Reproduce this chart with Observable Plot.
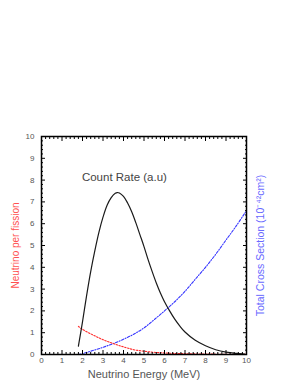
<!DOCTYPE html>
<html>
<head>
<meta charset="utf-8">
<script src="https://cdn.jsdelivr.net/npm/d3@7"></script>
<script src="https://cdn.jsdelivr.net/npm/@observablehq/plot@0.6"></script>
<style>
  html, body { margin: 0; padding: 0; background: #fff; }
  #chart { width: 295px; height: 382px; }
</style>
</head>
<body>
<div id="chart"></div>
<script>
// Count rate (a.u.)
const countEnergy = [1.8, 2.0, 2.2, 2.4, 2.6, 2.8, 3.0, 3.2, 3.4, 3.6, 3.7, 3.8, 4.0, 4.2, 4.4, 4.6, 4.8, 5.0, 5.2, 5.4, 5.6, 5.8, 6.0, 6.25, 6.5, 6.75, 7.0, 7.5, 8.0, 8.5, 9.0, 9.5, 9.9];
const countRate   = [0.38, 1.5, 2.7, 3.8, 4.75, 5.6, 6.3, 6.85, 7.2, 7.4, 7.43, 7.41, 7.25, 6.95, 6.55, 6.05, 5.5, 4.95, 4.35, 3.8, 3.28, 2.82, 2.42, 2.0, 1.62, 1.3, 1.03, 0.65, 0.4, 0.22, 0.11, 0.05, 0.02];

// Neutrino per fission
const fissionEnergy = [1.8, 2.0, 2.5, 3.0, 3.5, 4.0, 4.5, 5.0, 5.5, 6.0, 6.5, 7.0, 8.0, 9.0, 10.0];
const fissionYield  = [1.29, 1.15, 0.9, 0.68, 0.5, 0.35, 0.22, 0.15, 0.1, 0.07, 0.05, 0.035, 0.02, 0.01, 0.005];

// Total cross section (1e-42 cm^2)
const xsecEnergy = [1.8, 2.0, 2.5, 3.0, 3.5, 4.0, 4.5, 5.0, 5.5, 6.0, 6.5, 7.0, 7.5, 8.0, 8.5, 9.0, 9.5, 10.0];
const xsecValue  = [0.0, 0.04, 0.18, 0.33, 0.5, 0.7, 0.93, 1.22, 1.6, 2.0, 2.42, 2.9, 3.45, 4.0, 4.6, 5.25, 5.9, 6.6];

const majorTicks = [0, 1, 2, 3, 4, 5, 6, 7, 8, 9, 10];
const minorTicks = d3.range(0, 50).map(i => i / 5).filter(v => Math.abs(v - Math.round(v)) > 1e-9);

const xLabel = ["Neutrino Energy (MeV)"];
const yLeftLabel = ["Neutrino per fission"];
const yRightLabel = ["Total Cross Section (10\u207B\u2074\u00B2cm\u00B2)"];
const annotations = [{x: 1.97, y: 8.15, label: "Count Rate (a.u)"}];

const countData = countEnergy.map((e, i) => ({e, v: countRate[i]}));
const fissionData = fissionEnergy.map((e, i) => ({e, v: fissionYield[i]}));
const xsecData = xsecEnergy.map((e, i) => ({e, v: xsecValue[i]}));

const tickColor = "#555";
const chart = Plot.plot({
  width: 295,
  height: 382,
  marginLeft: 41,
  marginRight: 49,
  marginTop: 136,
  marginBottom: 28,
  x: {domain: [0, 10]},
  y: {domain: [0, 10]},
  style: {fontFamily: "'Liberation Sans', Arial, sans-serif", background: "#fff", overflow: "visible"},
  marks: [
    Plot.line(xsecData, {x: "e", y: "v", stroke: "#3535ff", strokeWidth: 1.1, strokeDasharray: "2.5,1.5,1,1.5", curve: "catmull-rom"}),
    Plot.line(fissionData, {x: "e", y: "v", stroke: "#ff2a2a", strokeWidth: 1.1, strokeDasharray: "1.5,1.5", curve: "catmull-rom"}),
    Plot.line(countData, {x: "e", y: "v", stroke: "#1a1a1a", strokeWidth: 1.2, curve: "catmull-rom"}),
    Plot.frame({stroke: "#000", strokeWidth: 1.5}),
    // major ticks (inward)
    Plot.axisX(majorTicks, {anchor: "bottom", tickSize: -4, text: null, label: null, stroke: "#000"}),
    Plot.axisX(majorTicks, {anchor: "top", tickSize: -4, text: null, label: null, stroke: "#000"}),
    Plot.axisY(majorTicks, {anchor: "left", tickSize: -4, text: null, label: null, stroke: "#000"}),
    Plot.axisY(majorTicks, {anchor: "right", tickSize: -4, text: null, label: null, stroke: "#000"}),
    // minor ticks (inward)
    Plot.axisX(minorTicks, {anchor: "bottom", tickSize: -2, text: null, label: null, stroke: "#000"}),
    Plot.axisX(minorTicks, {anchor: "top", tickSize: -2, text: null, label: null, stroke: "#000"}),
    Plot.axisY(minorTicks, {anchor: "left", tickSize: -2, text: null, label: null, stroke: "#000"}),
    Plot.axisY(minorTicks, {anchor: "right", tickSize: -2, text: null, label: null, stroke: "#000"}),
    // tick labels
    Plot.axisX(majorTicks, {anchor: "bottom", tickSize: 0, tickPadding: 3, fontSize: 8, fill: tickColor, label: null}),
    Plot.axisY(majorTicks, {anchor: "left", tickSize: 0, tickPadding: 7, fontSize: 8, fill: tickColor, label: null}),
    // axis titles
    Plot.text(xLabel, {frameAnchor: "bottom", text: d => d, textAnchor: "middle", lineAnchor: "middle", dy: 20, fontSize: 11, fill: "#555"}),
    Plot.text(yLeftLabel, {frameAnchor: "left", text: d => d, textAnchor: "middle", lineAnchor: "middle", dx: -26, rotate: -90, fontSize: 10, fill: "#ff5050"}),
    Plot.text(yRightLabel, {frameAnchor: "right", text: d => d, textAnchor: "middle", lineAnchor: "middle", dx: 14, rotate: -90, fontSize: 10.5, fill: "#6a6aff"}),
    Plot.text(annotations, {x: "x", y: "y", text: "label", textAnchor: "start", lineAnchor: "middle", fontSize: 11.5, fill: "#444"})
  ]
});
document.getElementById("chart").appendChild(chart);
</script>
</body>
</html>
